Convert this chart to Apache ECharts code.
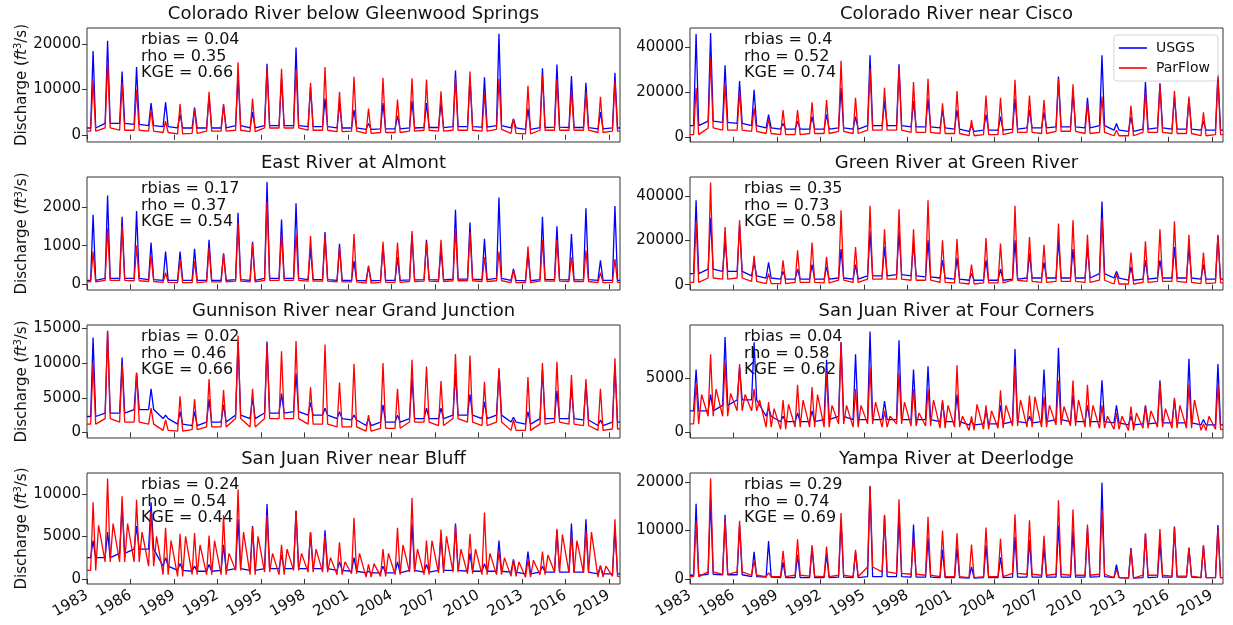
<!DOCTYPE html>
<html>
<head>
<meta charset="utf-8">
<title>Discharge USGS vs ParFlow</title>
<script src="https://cdn.jsdelivr.net/npm/echarts@6/dist/echarts.min.js"></script>
<style>
  body { margin: 0; background: #fff; }
  #main { width: 1233px; height: 625px; }
</style>
</head>
<body>
<div id="main"></div>
<script type="text/javascript">
// water years shown, one spring peak per year
var years = [1983,1984,1985,1986,1987,1988,1989,1990,1991,1992,1993,1994,1995,1996,1997,1998,1999,2000,2001,
             2002,2003,2004,2005,2006,2007,2008,2009,2010,2011,2012,2013,2014,2015,2016,2017,2018,2019];
var xTicks = [1983, 1986, 1989, 1992, 1995, 1998, 2001, 2004, 2007, 2010, 2013, 2016, 2019];

var titles = ['Colorado River below Gleenwood Springs', 'Colorado River near Cisco',
              'East River at Almont', 'Green River at Green River',
              'Gunnison River near Grand Junction', 'San Juan River at Four Corners',
              'San Juan River near Bluff', 'Yampa River at Deerlodge'];
var rbias = ['0.04', '0.4', '0.17', '0.35', '0.02', '0.04', '0.24', '0.29'];
var rho   = ['0.35', '0.52', '0.37', '0.73', '0.46', '0.58', '0.54', '0.74'];
var kge   = ['0.66', '0.74', '0.54', '0.58', '0.66', '0.62', '0.44', '0.69'];
var yTicks = [[0, 10000, 20000], [0, 20000, 40000], [0, 1000, 2000], [0, 20000, 40000],
              [0, 5000, 10000, 15000], [0, 5000], [0, 5000, 10000], [0, 10000, 20000]];
var yMin = [-1600, -2300, -150, -2400, -800, -500, -600, -1000];
var yMax = [23600, 48700, 2780, 48500, 15500, 9900, 12450, 21800];

// Colorado River below Glenwood Springs
var glenUsgsPeak = [18500,20800,14000,15000,7000,7200,4500,6000,8500,6500,13000,5000,15700,12400,19300,10500,8000,7000,5500,2500,7000,4200,7500,7000,7000,14200,12500,12700,22300,3500,5800,14700,15500,13000,11500,5000,13700];
var glenUsgsBase = [1500,2500,2500,2300,2000,1800,1500,1500,1500,1500,2000,1500,2000,2000,2000,1800,1800,1500,1500,1200,1300,1300,1500,1600,1600,1800,1800,1700,2000,1500,1200,1600,1700,1600,1600,1300,1500];
var glenPfPeak = [12000,16300,11500,10000,5500,3000,6800,5700,9500,6800,16000,8000,14700,14600,14500,11500,15000,9500,12800,5800,12600,7800,12500,12200,9600,12500,14000,9200,12400,3500,10800,13200,12300,9800,9400,8400,11800];
var glenPfBase = [800,1500,1000,1000,800,500,200,300,800,800,1000,700,1500,1500,1500,1000,1000,700,800,300,500,500,800,1000,800,1000,1000,800,1200,300,200,1000,1000,1000,1000,500,800];

// Colorado River near Cisco
var ciscoUsgsPeak = [46000,46500,32000,25000,21000,10000,6000,7000,9000,10000,22000,9000,36500,16000,32500,16000,17000,12000,12000,5000,10000,9000,17000,12000,11000,27000,20000,17500,36500,6000,9000,24500,24000,18000,17000,7000,28000];
var ciscoUsgsBase = [5000,7000,6500,6000,5000,4000,3500,3500,3500,3500,4000,3500,5000,5000,5000,4500,4500,4000,3500,2500,3000,3000,3500,4000,4000,4500,4500,4000,5000,3000,2500,3500,4000,3500,3500,3000,3000];
var ciscoPfPeak = [22000,35000,24000,20500,13000,8000,12000,12000,15500,16500,34000,17500,30500,22000,31000,24500,26000,15000,20500,7500,18500,17500,25500,18500,16500,26000,23500,15000,18000,3000,14000,20000,23500,20500,18000,11000,27000];
var ciscoPfBase = [1000,4000,3000,3000,2500,1500,1000,1000,1500,1500,2500,1500,3000,3000,3000,2000,2000,1500,1500,500,1000,1000,2000,2000,1500,2500,2500,1500,2000,500,500,2000,2000,1500,1500,500,1000];

// East River at Almont
var eastUsgsPeak = [1800,2300,1750,1900,1080,850,850,920,1150,800,1850,1100,2650,1680,2100,950,1350,1050,600,450,1000,700,1280,1150,900,1930,1600,1180,2250,400,800,1750,1500,1300,1970,620,2030];
var eastUsgsBase = [100,150,150,150,120,100,100,100,100,100,120,100,150,150,150,120,120,100,100,90,100,100,110,120,110,130,130,120,150,100,90,120,120,110,120,100,100];
var eastPfPeak = [850,1450,1500,1000,750,300,650,600,950,780,1600,1050,2150,1300,1300,1250,1250,950,1300,480,1100,1080,1380,1100,1150,1450,1350,700,850,350,980,1150,1150,700,880,300,650];
var eastPfBase = [60,100,100,90,70,50,40,40,60,60,80,60,100,100,100,80,80,60,60,30,50,50,70,80,70,90,90,70,90,40,40,80,80,70,70,40,50];

// Green River at Green River
var greenUsgsPeak = [38000,30000,20000,27000,10000,10000,6000,7000,9000,8000,16000,9000,24000,17000,24000,19000,20000,11000,12000,5000,11000,7000,20000,14000,10000,20000,16000,17000,37500,6000,8000,11000,11000,17000,17000,9000,22000];
var greenUsgsBase = [5000,7000,6000,6000,4000,3000,2500,2500,2500,2500,3000,2500,4000,4000,4500,4000,3500,3000,2500,2000,2000,2000,2500,3000,3000,3000,3000,3000,5000,3000,2000,2500,3000,3000,3000,2500,2500];
var greenPfPeak = [28500,46000,26000,29000,13000,5000,11000,15500,19000,12500,33500,17000,35500,25000,34000,25000,38000,20000,20500,9000,21000,18500,35500,21500,18000,27500,29000,22500,30000,5000,14500,19500,25000,28500,22500,14500,22500];
var greenPfBase = [1000,3000,2500,3000,1500,500,500,1000,1000,800,2000,1000,2500,2500,2500,2000,2000,1000,800,300,800,800,2000,1500,1000,1500,1500,1000,2000,300,300,1000,1500,1500,1000,500,800];

// Gunnison River near Grand Junction
var gunnUsgsPeak = [13700,14600,10800,8600,6300,2500,3000,3000,4800,4000,13000,5000,13100,5600,8500,4300,3500,3000,2500,2000,4000,2500,7800,3500,3500,8500,5500,4400,9000,2200,3000,9000,6000,6500,7000,1800,9800];
var gunnUsgsBase = [2300,2800,2800,3300,3300,2000,1200,1000,1500,1500,2500,2000,2800,2800,3000,2500,2500,2000,1800,1000,1500,1500,2000,2000,2000,2500,2500,2000,2500,1500,1200,2000,2000,2000,1800,1000,1500];
var gunnPfPeak = [10000,14700,9800,8600,3500,1800,5200,4800,7700,6100,14000,6300,12700,11700,13200,6500,12700,7200,9900,2500,10000,6300,10500,9500,7400,11300,11100,7300,9300,1800,8000,10000,10200,8300,7700,6300,10700];
var gunnPfBase = [1200,2000,1500,1500,1200,300,200,400,800,800,2000,800,2000,2000,2000,1200,1200,800,800,200,600,600,1500,1500,1000,2000,1500,1000,1500,300,300,1200,1500,1200,1000,300,500];

// San Juan River at Four Corners
var fourUsgsPeak = [5800,3500,8800,6000,8300,2300,1500,1800,2000,6700,8300,7200,9300,2900,8500,5800,6100,2800,3500,1000,2000,2500,7700,1500,5800,7800,3500,2500,4800,2500,1500,2500,4800,3000,6800,1200,6300];
var fourUsgsBase = [2000,2000,2500,3000,3000,1500,1000,1000,1000,1200,1500,1200,1200,1200,1200,1200,1200,1000,1000,700,800,800,1000,900,1000,1200,1000,1000,1000,900,700,800,900,900,900,700,700];
var fourPfPeak = [4500,7200,6500,6300,4000,2800,3000,4400,4200,5500,8300,4000,6000,2000,5500,4000,4000,3000,6200,1500,2500,3900,6200,3400,3300,4800,4800,4400,2500,1800,2400,2400,4600,3200,4400,800,4400];
var fourPfBase = [800,1500,1500,2000,2000,500,300,500,500,500,800,500,800,500,800,600,600,400,500,200,300,400,600,500,500,700,600,500,400,300,200,400,500,400,400,200,300];
var fourPfAutumn = [3500,4000,3600,3500,3000,2200,2600,3000,3500,2500,2500,2500,2800,1500,2800,1800,3000,2500,1500,2600,2000,2500,3000,3300,2500,2400,3000,2500,1500,1500,1800,2000,2200,2500,3000,1500,3000];

// San Juan River near Bluff
var bluffUsgsPeak = [4500,5500,8700,6200,9000,2500,1800,1500,1700,4000,7000,6200,8800,2800,8000,5500,5700,2000,2500,900,1500,2000,6500,1700,5000,6500,3000,1800,4500,2300,3200,1500,5700,6500,7000,1500,5900];
var bluffUsgsBase = [2500,2500,3000,3500,3500,1500,1000,900,900,1000,1200,1000,1200,1200,1200,1200,1200,1000,900,700,700,700,1000,800,1000,1000,900,900,900,800,600,800,800,800,800,600,600];
var bluffPfPeak = [9000,11800,9700,9300,8000,6000,5300,5400,5100,7500,10500,6000,7500,4000,8000,5500,5000,4300,7200,1700,3500,6000,9500,4500,5800,6300,5300,7800,3300,2200,2200,3200,5900,5200,5700,1600,7000];
var bluffPfBase = [1000,2000,2000,2000,1500,500,300,500,500,500,1000,500,800,500,1000,800,800,500,600,200,300,500,800,500,700,800,600,500,500,300,200,500,800,700,700,200,300];
var bluffPfAutumn = [6300,6500,6500,5500,5000,4500,5000,4000,4500,3000,5500,5000,3000,3500,3000,3500,2500,2000,3000,1800,3000,4000,3500,4500,5000,3500,3500,3000,2500,2000,2200,2800,5200,4500,5500,1500,6500];

// Yampa River at Deerlodge
var yampaUsgsPeak = [15500,16500,13200,11000,5600,7800,3500,5000,6500,5000,12000,5500,19000,13000,13000,11200,8500,6000,6500,2500,7000,4500,8700,8000,6500,11000,10000,10400,19800,3000,6400,9300,7500,10800,6500,6800,11100];
var yampaUsgsBase = [800,1000,900,900,500,400,300,300,300,300,400,300,500,500,500,400,400,300,300,200,300,300,400,400,400,400,400,400,500,300,200,300,400,400,400,300,300];
var yampaPfPeak = [12000,20700,12300,12000,3800,1300,5800,8200,7000,6700,13600,6000,19200,13200,16400,8600,12800,10000,9400,7100,10600,8300,13300,12100,8900,16200,14300,11200,14300,2000,6100,9400,10300,10600,6400,7000,10400];
var yampaPfBase = [500,1500,1000,1500,800,500,500,800,600,500,800,500,2500,1500,1200,1000,800,500,500,300,500,500,1200,1000,800,1000,800,800,1000,300,200,800,800,600,600,300,300];

var usgs = [[glenUsgsPeak, glenUsgsBase], [ciscoUsgsPeak, ciscoUsgsBase], [eastUsgsPeak, eastUsgsBase],
            [greenUsgsPeak, greenUsgsBase], [gunnUsgsPeak, gunnUsgsBase], [fourUsgsPeak, fourUsgsBase],
            [bluffUsgsPeak, bluffUsgsBase], [yampaUsgsPeak, yampaUsgsBase]];
var parflow = [[glenPfPeak, glenPfBase], [ciscoPfPeak, ciscoPfBase], [eastPfPeak, eastPfBase],
               [greenPfPeak, greenPfBase], [gunnPfPeak, gunnPfBase], [fourPfPeak, fourPfBase, fourPfAutumn],
               [bluffPfPeak, bluffPfBase, bluffPfAutumn], [yampaPfPeak, yampaPfBase]];

var X_MAX = 2019.77;
var FONT = 'DejaVu Sans';

// spring low -> peak -> summer low (+ optional autumn bump), one set per year
function toPoints(peak, base, autumn) {
    var pts = [[1983, base[0]]];
    for (var i = 0; i < years.length; i++) {
        pts.push([years[i] + 0.25, base[i]]);
        pts.push([years[i] + 0.42, peak[i]]);
        pts.push([years[i] + 0.6, base[i]]);
        if (autumn && years[i] + 0.8 < X_MAX) pts.push([years[i] + 0.8, autumn[i]]);
    }
    pts.push([X_MAX, base[base.length - 1]]);
    return pts;
}

function buildOption() {
    var colLeft = [87, 690];
    var rowTop = [28, 177, 325, 473];
    var rowH = [114, 113, 113, 111];
    var gridW = 533;
    var grids = [], xAxes = [], yAxes = [], allSeries = [], titleList = [], texts = [];

    for (var k = 0; k < 8; k++) {
        var col = k % 2, row = Math.floor(k / 2);
        var gx = colLeft[col], gy = rowTop[row];
        grids.push({ left: gx, top: gy, width: gridW, height: rowH[row],
                     show: true, borderColor: '#333', borderWidth: 1 });
        xAxes.push({
            gridIndex: k, type: 'value', min: 1983, max: X_MAX,
            axisLine: { show: false }, splitLine: { show: false },
            axisTick: { show: true, length: 5, lineStyle: { color: '#333' }, customValues: xTicks },
            axisLabel: {
                show: row === 3, customValues: xTicks, rotate: 30, margin: 10,
                fontSize: 15, color: '#111', fontFamily: FONT,
                formatter: function (v) { return String(v); }
            }
        });
        var ya = {
            gridIndex: k, type: 'value', min: yMin[k], max: yMax[k],
            axisLine: { show: false }, splitLine: { show: false },
            axisTick: { show: true, length: 5, lineStyle: { color: '#333' }, customValues: yTicks[k] },
            axisLabel: { customValues: yTicks[k], fontSize: 15, color: '#111', fontFamily: FONT, margin: 6,
                         formatter: function (v) { return String(v); } }
        };
        if (col === 0) {
            ya.name = '{n|Discharge (}{i|ft}{s|3}{n|/s)}';
            ya.nameLocation = 'middle';
            ya.nameGap = 57;
            ya.nameTextStyle = {
                rich: {
                    n: { fontSize: 15, fontFamily: FONT, color: '#111' },
                    i: { fontSize: 15, fontFamily: FONT, fontStyle: 'italic', color: '#111' },
                    s: { fontSize: 10, fontFamily: FONT, color: '#111', verticalAlign: 'top', padding: [0, 0, 6, 0] }
                }
            };
        }
        yAxes.push(ya);

        allSeries.push({
            name: 'USGS', type: 'line', xAxisIndex: k, yAxisIndex: k,
            symbol: 'none', animation: false, z: 3,
            lineStyle: { color: '#0000ff', width: 1.3 }, itemStyle: { color: '#0000ff' },
            data: toPoints(usgs[k][0], usgs[k][1])
        });
        allSeries.push({
            name: 'ParFlow', type: 'line', xAxisIndex: k, yAxisIndex: k,
            symbol: 'none', animation: false, z: 4,
            lineStyle: { color: '#ff0000', width: 1.3 }, itemStyle: { color: '#ff0000' },
            data: toPoints(parflow[k][0], parflow[k][1], parflow[k][2])
        });

        titleList.push({
            text: titles[k], left: gx + gridW / 2, top: gy - 23, textAlign: 'center', padding: 0,
            textStyle: { fontSize: 18, fontWeight: 'normal', fontFamily: FONT, color: '#111' }
        });
        texts.push({
            type: 'text', left: gx + 54, top: gy + 4, z: 1,
            style: {
                text: 'rbias = ' + rbias[k] + '\nrho = ' + rho[k] + '\nKGE = ' + kge[k],
                font: '16px "DejaVu Sans"', fill: '#111', lineHeight: 16.5
            }
        });
    }

    return {
        backgroundColor: '#fff',
        animation: false,
        title: titleList,
        grid: grids,
        xAxis: xAxes,
        yAxis: yAxes,
        series: allSeries,
        graphic: texts,
        legend: {
            data: [{ name: 'USGS', icon: 'rect' }, { name: 'ParFlow', icon: 'rect' }],
            orient: 'vertical', right: 15, top: 35,
            itemWidth: 28, itemHeight: 1.6, itemGap: 6,
            padding: [6, 8, 6, 5],
            backgroundColor: 'rgba(255,255,255,0.85)', borderColor: '#d5d5d5', borderWidth: 1, borderRadius: 3,
            textStyle: { fontSize: 14, fontFamily: FONT, color: '#111', padding: [0, 0, 0, 4] }
        }
    };
}

var myChart = echarts.init(document.getElementById('main'));
myChart.setOption(buildOption());
</script>
</body>
</html>
